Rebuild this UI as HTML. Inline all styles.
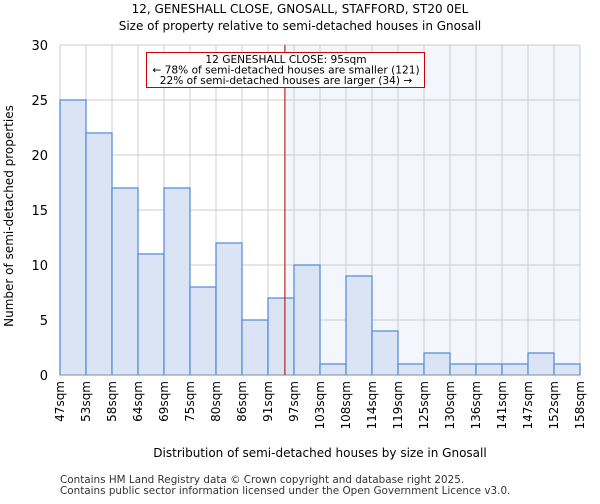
<!DOCTYPE html>
<html><head><meta charset="utf-8"><style>
body{margin:0;background:#fff;font-family:"DejaVu Sans","Liberation Sans",sans-serif;}
</style></head><body>
<svg width="600" height="500" xmlns="http://www.w3.org/2000/svg" font-family="DejaVu Sans, Liberation Sans, sans-serif">
<text x="300" y="13" text-anchor="middle" font-size="12">12, GENESHALL CLOSE, GNOSALL, STAFFORD, ST20 0EL</text>
<text x="300" y="30" text-anchor="middle" font-size="12">Size of property relative to semi-detached houses in Gnosall</text>
<g id="plot"></g>
<text x="320" y="457" text-anchor="middle" font-size="12">Distribution of semi-detached houses by size in Gnosall</text>
<text transform="translate(13,216) rotate(-90)" text-anchor="middle" font-size="12">Number of semi-detached properties</text>
<text x="60" y="483" font-size="10.4" fill="#333">Contains HM Land Registry data © Crown copyright and database right 2025.</text>
<text x="60" y="494" font-size="10.4" fill="#333">Contains public sector information licensed under the Open Government Licence v3.0.</text>
</svg>
<script>
const categories=["47sqm","53sqm","58sqm","64sqm","69sqm","75sqm","80sqm","86sqm","91sqm","97sqm","103sqm","108sqm","114sqm","119sqm","125sqm","130sqm","136sqm","141sqm","147sqm","152sqm","158sqm"];
const counts=[25,22,17,11,17,8,12,5,7,10,1,9,4,1,2,1,1,1,2,1];
const yTicks=[0,5,10,15,20,25,30];
const markerIndex=8.65;
const NS="http://www.w3.org/2000/svg";
const g=document.getElementById('plot');
const X0=60,X1=580,Y0=375,Y1=45,YMAX=30;
const bw=(X1-X0)/counts.length;
const xs=i=>X0+i*bw;
const ys=v=>Y0-(v/YMAX)*(Y0-Y1);
function mk(t,a){const e=document.createElementNS(NS,t);for(const k in a)e.setAttribute(k,a[k]);g.appendChild(e);return e;}
let r=mk('rect',{x:xs(markerIndex),y:Y1,width:X1-xs(markerIndex),height:Y0-Y1,fill:'#f3f6fd'});


for(let i=0;i<=counts.length;i++){let l=mk('line',{x1:xs(i),x2:xs(i),y1:Y1,y2:Y0,stroke:'#cccccc'});

}
yTicks.forEach(v=>{let l=mk('line',{x1:X0,x2:X1,y1:ys(v),y2:ys(v),stroke:'#cccccc'});


let t=mk('text',{x:X0-12,y:ys(v)+5,'text-anchor':'end','font-size':'13'});t.textContent=v;

});
counts.forEach((c,i)=>{let b=mk('rect',{x:xs(i),y:ys(c),width:bw,height:Y0-ys(c),fill:'#dae4f4',stroke:'#5b8fd6','stroke-width':'1.3'});

});
categories.forEach((c,i)=>{let t=mk('text',{transform:`translate(${xs(i)+4},381) rotate(-90)`,'text-anchor':'end','font-size':'12'});t.textContent=c;

});
let ax=mk('line',{x1:X0,x2:X1,y1:Y0,y2:Y0,stroke:'#aaa'});


let ml=mk('line',{x1:xs(markerIndex),x2:xs(markerIndex),y1:Y1,y2:Y0,stroke:'#aa0000','stroke-width':'1'});


let box=mk('rect',{x:146.5,y:52.5,width:278,height:35,fill:'#fff',stroke:'#cc0000'});


["12 GENESHALL CLOSE: 95sqm","← 78% of semi-detached houses are smaller (121)","22% of semi-detached houses are larger (34) →"].forEach((s,i)=>{let t=mk('text',{x:286,y:63+i*10.5,'text-anchor':'middle','font-size':'10.6'});t.textContent=s;

});
</script>
</body></html>
